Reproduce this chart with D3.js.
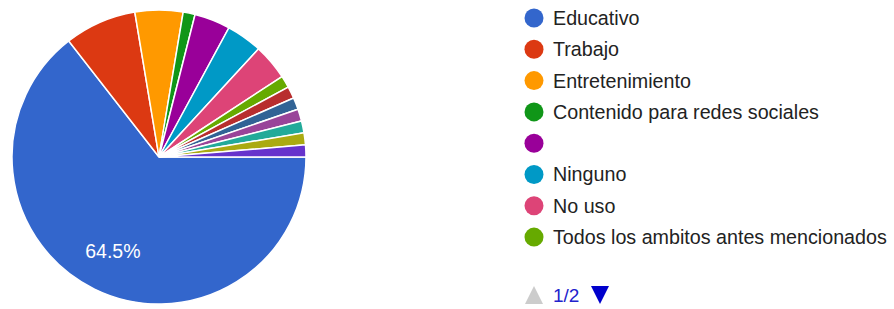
<!DOCTYPE html>
<html>
<head>
<meta charset="utf-8">
<script src="https://cdn.jsdelivr.net/npm/d3@7"></script>
<style>
  body { margin: 0; background: #fff; }
  text { font-family: "Liberation Sans", Arial, sans-serif; }
</style>
</head>
<body>
<div id="chart"></div>
<script>
// responses per category (76 total)
const categories = ["Educativo", "Trabajo", "Entretenimiento", "Contenido para redes sociales", "",
    "Ninguno", "No uso", "Todos los ambitos antes mencionados",
    "Otro 1", "Otro 2", "Otro 3", "Otro 4", "Otro 5", "Otro 6"];
const counts = [49, 6, 4, 1, 3, 3, 3, 1, 1, 1, 1, 1, 1, 1];
const colors = ["#3366cc", "#dc3912", "#ff9900", "#109618", "#990099", "#0099c6", "#dd4477",
    "#66aa00", "#b82e2e", "#316395", "#994499", "#22aa99", "#aaaa11", "#6633cc"];
const legendPage = 8;
const pageLabel = "1/2";

const width = 894, height = 309;
const cx = 159, cy = 157, r = 147;

const svg = d3.select('#chart').append('svg')
    .attr('width', width)
    .attr('height', height);

const data = categories.map((c, i) => ({ name: c, value: counts[i], color: colors[i] }));
const total = d3.sum(counts);

const pie = d3.pie()
    .sort(null)
    .value(d => d.value)
    .startAngle(Math.PI / 2)
    .endAngle(Math.PI / 2 + 2 * Math.PI);

const arc = d3.arc().innerRadius(0).outerRadius(r);
const labelArc = d3.arc().innerRadius(105).outerRadius(105);

const g = svg.append('g').attr('transform', `translate(${cx},${cy})`);
const arcs = pie(data);

g.selectAll('path')
    .data(arcs)
    .join('path')
    .attr('d', arc)
    .style('fill', d => d.data.color)
    .style('stroke', '#fff')
    .style('stroke-width', 1.5);

// only the big slice gets a percentage
g.selectAll('text.pct')
    .data(arcs.filter(d => d.value / total > 0.1))
    .join('text')
    .attr('class', 'pct')
    .attr('transform', d => `translate(${labelArc.centroid(d)})`)
    .attr('text-anchor', 'middle')
    .attr('dy', '0.35em')
    .style('fill', '#fff')
    .style('font-size', '19.5px')
    .text(d => (d.value / total * 100).toFixed(1) + '%');

// legend, first page
const legend = svg.append('g').attr('transform', 'translate(534,18)');
const row = legend.selectAll('g')
    .data(data.slice(0, legendPage))
    .join('g')
    .attr('transform', (d, i) => `translate(0,${i * 31.3})`);

row.append('circle')
    .attr('r', 9.5)
    .style('fill', d => d.color);

row.append('text')
    .attr('x', 19)
    .attr('dy', '0.35em')
    .style('font-size', '19.7px')
    .style('fill', '#222')
    .text(d => d.name);

// pager
const pager = svg.append('g').attr('transform', 'translate(534,295)');
pager.append('path')
    .attr('d', 'M-9,9L9,9L0,-9Z')
    .style('fill', '#ccc');
pager.append('text')
    .attr('x', 19)
    .attr('dy', '0.35em')
    .style('font-size', '19px')
    .style('fill', '#2222cc')
    .text(pageLabel);
pager.append('path')
    .attr('d', 'M57,-9L75,-9L66,9Z')
    .style('fill', '#0000cc');
</script>
</body>
</html>
